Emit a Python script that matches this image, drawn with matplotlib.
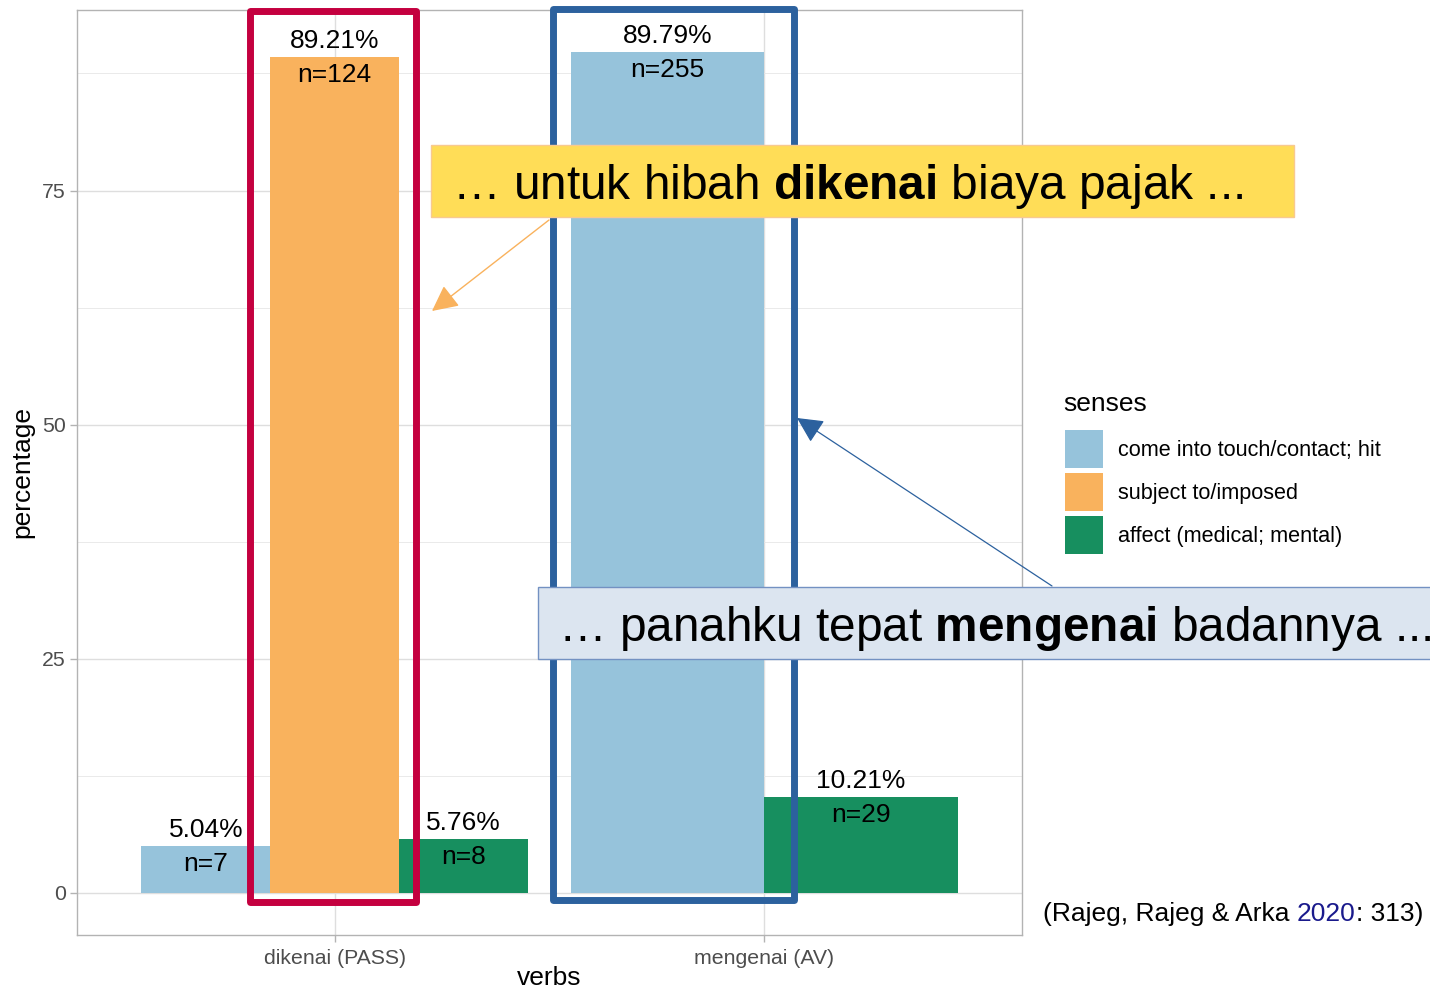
import matplotlib
matplotlib.use("Agg")
import matplotlib.pyplot as plt
from matplotlib.patches import Rectangle, Patch, FancyArrowPatch

# fonts
plt.rcParams['font.family'] = ['Liberation Sans', 'DejaVu Sans']
plt.rcParams['mathtext.fontset'] = 'custom'
plt.rcParams['mathtext.rm'] = 'Liberation Sans'
plt.rcParams['mathtext.bf'] = 'Liberation Sans:bold'

# data
verbs = ["dikenai (PASS)", "mengenai (AV)"]
senses = ["come into touch/contact; hit", "subject to/imposed", "affect (medical; mental)"]
sense_colors = ["#96C3DB", "#F9B25D", "#178F5F"]

dikenai_sense = [0, 1, 2]
dikenai_pct = [5.04, 89.21, 5.76]
dikenai_n = [7, 124, 8]

mengenai_sense = [0, 2]
mengenai_pct = [89.79, 10.21]
mengenai_n = [255, 29]

W, H = 1430, 996
def fx(x):
    return x / W
def fy(y):
    return 1 - y / H

fig = plt.figure(figsize=(W / 100, H / 100), dpi=100)
ax = fig.add_axes([fx(77), fy(935), (1022 - 77) / W, (935 - 10) / H])

# dodged bars
groups = [(dikenai_sense, dikenai_pct, dikenai_n),
          (mengenai_sense, mengenai_pct, mengenai_n)]
for g, (sen, pct, n) in enumerate(groups):
    k = len(sen)
    w = 0.9 / k
    for i in range(k):
        xi = g + 1 - 0.45 + w * (i + 0.5)
        ax.bar(xi, pct[i], width=w, color=sense_colors[sen[i]], zorder=2)
        ax.annotate(f"{pct[i]:.2f}%", (xi, pct[i]), xytext=(0, 6.5),
                    textcoords='offset points', ha='center', va='baseline',
                    fontsize=19, zorder=3)
        ax.annotate(f"n={n[i]}", (xi, pct[i]), xytext=(0, -18),
                    textcoords='offset points', ha='center', va='baseline',
                    fontsize=19, zorder=3)

ax.set_xlim(0.4, 2.6)
ax.set_ylim(-4.49, 94.28)
ax.set_xticks([1, 2])
ax.set_xticklabels(verbs)
ax.set_yticks([0, 25, 50, 75])
ax.set_yticks([12.5, 37.5, 62.5, 87.5], minor=True)
ax.set_axisbelow(True)
ax.grid(which='major', color='#DEDEDE', lw=1.0)
ax.grid(which='minor', axis='y', color='#E6E6E6', lw=0.6)
ax.tick_params(which='major', length=5, width=1, color='#B3B3B3',
               labelcolor='#4D4D4D', labelsize=15.3, pad=3)
ax.tick_params(axis='x', which='major', pad=5)
ax.tick_params(which='minor', length=0)
for s in ax.spines.values():
    s.set_color('#B3B3B3')
    s.set_linewidth(1.0)

ax.set_xlabel("verbs", fontsize=19)
ax.set_ylabel("percentage", fontsize=19)
ax.xaxis.set_label_coords(fx(549), fy(966), transform=fig.transFigure)
ax.yaxis.set_label_coords(fx(34), fy(472), transform=fig.transFigure)

# legend
fig.text(fx(1063), fy(411), "senses", fontsize=19, va='baseline', ha='left')
handles = [Patch(facecolor=c) for c in sense_colors]
ax.legend(handles, senses, loc='upper left',
          bbox_to_anchor=(fx(1065), fy(430)), bbox_transform=fig.transFigure,
          frameon=False, borderpad=0, borderaxespad=0, fontsize=15.6,
          handlelength=1.75, handleheight=2.32,
          handletextpad=0.69, labelspacing=0.23)

# highlight boxes
fig.add_artist(Rectangle((fx(250), fy(902)), fx(416) - fx(250), fy(11) - fy(902),
                         transform=fig.transFigure, fill=False, edgecolor='#C4003F',
                         lw=5, joinstyle='round', zorder=5))
fig.add_artist(Rectangle((fx(553), fy(900)), fx(794) - fx(553), fy(9) - fy(900),
                         transform=fig.transFigure, fill=False, edgecolor='#2C619E',
                         lw=5, joinstyle='round', zorder=5))

# arrows
fig.add_artist(FancyArrowPatch((fx(549), fy(220)), (fx(432), fy(311)),
                               transform=fig.transFigure,
                               arrowstyle='-|>,head_length=0.8,head_width=0.4',
                               mutation_scale=20, color='#F9B25D', lw=1,
                               shrinkA=0, shrinkB=0, zorder=6))
fig.add_artist(FancyArrowPatch((fx(1052), fy(586)), (fx(797), fy(418)),
                               transform=fig.transFigure,
                               arrowstyle='-|>,head_length=0.8,head_width=0.4',
                               mutation_scale=20, color='#2C619E', lw=0.9,
                               shrinkA=0, shrinkB=0, zorder=6))

# callouts
fig.add_artist(Rectangle((fx(431), fy(217)), fx(1294) - fx(431), fy(145) - fy(217),
                         transform=fig.transFigure, facecolor='#FFDD57',
                         edgecolor='#F8C990', lw=1, zorder=7))
fig.text(fx(452), fy(199), r"… untuk hibah $\mathbf{dikenai}$ biaya pajak ...",
         fontsize=34.4, va='baseline', ha='left', zorder=8)

fig.add_artist(Rectangle((fx(538), fy(659)), fx(1445) - fx(538), fy(587) - fy(659),
                         transform=fig.transFigure, facecolor='#DCE5F0',
                         edgecolor='#7391C2', lw=1, zorder=7))
fig.text(fx(558), fy(641), r"… panahku tepat $\mathbf{mengenai}$ badannya ...",
         fontsize=34.4, va='baseline', ha='left', zorder=8)

# citation
r = fig.canvas.get_renderer()
cite_fs = 19
t1 = fig.text(fx(1043), fy(921), "(Rajeg, Rajeg & Arka", fontsize=cite_fs,
              va='baseline', ha='left')
sp = cite_fs * 0.278 * 100 / 72
x2 = 1043 + t1.get_window_extent(r).width + sp
t2 = fig.text(fx(x2), fy(921), "2020", fontsize=cite_fs, color='#1A1A8C',
              va='baseline', ha='left')
x3 = x2 + t2.get_window_extent(r).width
fig.text(fx(x3), fy(921), ": 313)", fontsize=cite_fs, va='baseline', ha='left')

fig.savefig("out.png", dpi=100)
